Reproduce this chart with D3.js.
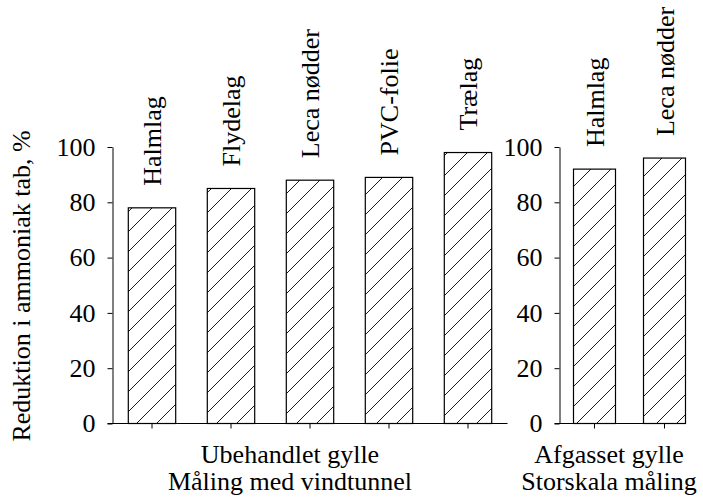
<!DOCTYPE html>
<html lang="da">
<head>
<meta charset="UTF-8" />
<title>Reduktion i ammoniak tab</title>
<script src="https://cdn.jsdelivr.net/npm/d3@7/dist/d3.min.js"></script>
<style>
  body { margin: 0; background: #fff; }
  svg { display: block; }
  svg text { font-family: "Liberation Serif", "Times New Roman", Times, "Nimbus Roman", "DejaVu Serif", serif; font-size: 26px; fill: #000; }
  .axis path, .axis line { stroke: #000; stroke-width: 1; }
  .bar { stroke: #000; stroke-width: 1.2; fill: url(#hatch); }
</style>
</head>
<body>
<svg id="chart" width="703" height="500"></svg>
<script>
// data
var groupA = ['Halmlag', 'Flydelag', 'Leca nødder', 'PVC-folie', 'Trælag'];
var valuesA = [78, 85, 88, 89, 98];
var titleA = ['Ubehandlet gylle', 'Måling med vindtunnel'];

var groupB = ['Halmlag', 'Leca nødder'];
var valuesB = [92, 96];
var titleB = ['Afgasset gylle', 'Storskala måling'];

var yTicks = [0, 20, 40, 60, 80, 100];
var yTitle = 'Reduktion i ammoniak tab, %';

const svg = d3.select('#chart');

// diagonal hatching like the original
const pat = svg.append('defs').append('pattern')
  .attr('id', 'hatch')
  .attr('patternUnits', 'userSpaceOnUse')
  .attr('width', 20)
  .attr('height', 20);
pat.append('rect').attr('width', 20).attr('height', 20).attr('fill', '#fff');
pat.append('path')
  .attr('d', 'M-5,5 L5,-5 M0,20 L20,0 M15,25 L25,15')
  .attr('stroke', '#000')
  .attr('stroke-width', 0.9);

const y = d3.scaleLinear()
  .domain([0, 100])
  .range([423.5, 147]);

const panels = [
  { cats: groupA, vals: valuesA, title: titleA, x0: 112.5, x1: 507.5, lineEnd: 507.5, titleX: 290 },
  { cats: groupB, vals: valuesB, title: titleB, x0: 559.5, x1: 699.5, lineEnd: 684, titleX: 609 }
];

panels.forEach(function (p) {
  const x = d3.scaleBand()
    .domain(p.cats)
    .range([p.x0, p.x1])
    .paddingInner(0.4)
    .paddingOuter(0.2);

  const g = svg.append('g');

  // y axis
  g.append('g')
    .attr('class', 'axis')
    .attr('transform', `translate(${p.x0},0)`)
    .call(d3.axisLeft(y).tickValues(yTicks).tickSize(5).tickPadding(12).tickSizeOuter(0))
    .call(a => a.attr('font-family', null).attr('font-size', null))
    .call(a => a.selectAll('text').attr('font-size', null));

  // x axis ticks, no labels
  g.append('g')
    .attr('class', 'axis')
    .attr('transform', `translate(0,${y(0)})`)
    .call(d3.axisBottom(x).tickSize(5).tickFormat('').tickSizeOuter(0))
    .call(a => a.select('.domain').remove());

  // baseline runs a bit past the y axis
  g.append('line')
    .attr('x1', p.x0 - 5)
    .attr('x2', p.lineEnd)
    .attr('y1', y(0))
    .attr('y2', y(0))
    .attr('stroke', '#000');

  const data = p.cats.map((c, i) => ({ name: c, value: p.vals[i] }));

  g.selectAll('.bar')
    .data(data)
    .enter()
    .append('rect')
    .attr('class', 'bar')
    .attr('x', d => x(d.name))
    .attr('y', d => y(d.value))
    .attr('width', x.bandwidth())
    .attr('height', d => y(0) - y(d.value));

  // rotated category labels above bars
  g.selectAll('.lbl')
    .data(data)
    .enter()
    .append('text')
    .attr('class', 'lbl')
    .attr('transform', d => `translate(${x(d.name) + x.bandwidth() / 2},${y(d.value) - 22}) rotate(-90)`)
    .attr('dy', '0.35em')
    .attr('text-anchor', 'start')
    .text(d => d.name);

  // group title under the axis
  g.selectAll('.gt')
    .data(p.title)
    .enter()
    .append('text')
    .attr('class', 'gt')
    .attr('x', p.titleX)
    .attr('y', (d, i) => 463 + i * 27)
    .attr('text-anchor', 'middle')
    .text(d => d);
});

svg.append('text') // y axis title
  .attr('transform', 'translate(30,286) rotate(-90)')
  .attr('text-anchor', 'middle')
  .text(yTitle);
</script>
</body>
</html>
